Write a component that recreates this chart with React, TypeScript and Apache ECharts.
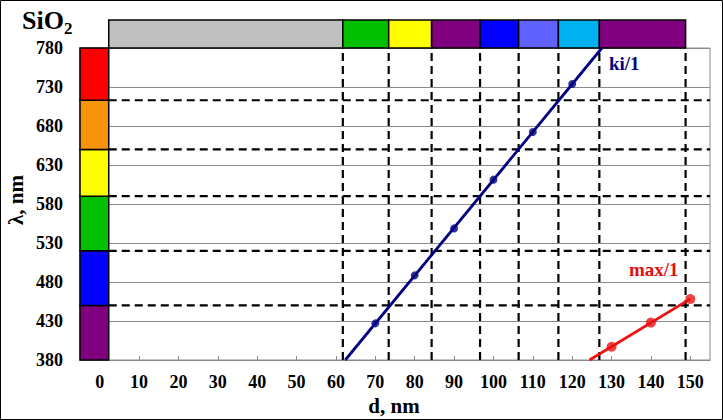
import React, { useEffect, useRef } from "react";
import * as echarts from "echarts";

// ---- data ----
const xTicks = [0, 10, 20, 30, 40, 50, 60, 70, 80, 90, 100, 110, 120, 130, 140, 150];
const yTicks = [380, 430, 480, 530, 580, 630, 680, 730, 780];
const kiD = [70, 80, 90, 100, 110, 120];
const kiLambda = [427, 488.5, 548.7, 611.2, 672.3, 733.8];
const maxD = [130, 140, 150];
const maxLambda = [397, 428, 458.2];
// wavelength colour bands (bottom -> top)
const lambdaBounds = [380, 450, 520, 590, 650, 713, 780];
const lambdaColors = ["#800080", "#0000FF", "#00C000", "#FFFF00", "#F7930B", "#FF0000"];
// thickness colour bands (left -> right)
const dBounds = [2.3, 61.75, 73.4, 84.3, 96.6, 106.4, 116.5, 126.9, 148.8];
const dColors = ["#C0C0C0", "#00C000", "#FFFF00", "#800080", "#0000FF", "#6161FF", "#00B0F0", "#800080"];

const X_MIN = -5;
const X_MAX = 155;
const Y_MIN = yTicks[0];
const Y_MAX = yTicks[yTicks.length - 1];

function fit(xs: number[], ys: number[]) {
  const n = xs.length;
  const mx = xs.reduce((a, b) => a + b, 0) / n;
  const my = ys.reduce((a, b) => a + b, 0) / n;
  let sxy = 0;
  let sxx = 0;
  for (let i = 0; i < n; i++) {
    sxy += (xs[i] - mx) * (ys[i] - my);
    sxx += (xs[i] - mx) * (xs[i] - mx);
  }
  const m = sxy / sxx;
  return { m, b: my - m * mx };
}

const FAMILY = "Liberation Serif";

export default function App() {
  const ref = useRef<HTMLDivElement>(null);
  useEffect(() => {
    document.body.style.margin = "0";
    const chart = echarts.init(ref.current!, null, { renderer: "svg" });

    const kf = fit(kiD, kiLambda);
    const kiLine = [
      [(Y_MIN - kf.b) / kf.m, Y_MIN],
      [(Y_MAX - kf.b) / kf.m, Y_MAX],
    ];
    const mf = fit(maxD, maxLambda);
    const lastD = maxD[maxD.length - 1];
    const maxLine = [
      [(Y_MIN - mf.b) / mf.m, Y_MIN],
      [lastD, mf.m * lastD + mf.b],
    ];

    const dashStyle = { stroke: "#000", lineWidth: 2.2, lineDash: [8, 5] };
    const txt = (size: number) => ({ fontFamily: FAMILY, fontWeight: "bold", fontSize: size });

    chart.setOption({
      animation: false,
      grid: {
        left: 80,
        right: 13,
        top: 48,
        bottom: 60,
        show: true,
        borderColor: "#8a8a8a",
        borderWidth: 1,
        backgroundColor: "transparent",
      },
      xAxis: {
        type: "value",
        min: X_MIN,
        max: X_MAX,
        axisLine: { show: true, lineStyle: { color: "#8a8a8a", width: 1 } },
        axisTick: { show: true, inside: true, length: 4, customValues: xTicks, lineStyle: { color: "#8a8a8a" } },
        axisLabel: {
          customValues: xTicks,
          margin: 13,
          fontFamily: FAMILY,
          fontWeight: "bold",
          fontSize: 18,
          color: "#000",
        },
        splitLine: { show: false },
      },
      yAxis: {
        type: "value",
        min: Y_MIN,
        max: Y_MAX,
        interval: 50,
        axisLine: { show: false },
        axisTick: { show: false },
        axisLabel: {
          margin: 17,
          fontFamily: FAMILY,
          fontWeight: "bold",
          fontSize: 18,
          color: "#000",
        },
        splitLine: { show: true, lineStyle: { color: "#8a8a8a", width: 1 } },
      },
      series: [
        {
          type: "custom",
          name: "vdash",
          clip: false,
          z: 2,
          encode: { x: 0, y: 1 },
          data: dBounds.slice(1).map((d) => [d, Y_MIN]),
          renderItem: (params: any, api: any) => {
            const p0 = api.coord([api.value(0), Y_MIN]);
            const p1 = api.coord([api.value(0), Y_MAX]);
            return {
              type: "line",
              shape: { x1: p0[0], y1: p0[1], x2: p1[0], y2: p1[1] },
              style: dashStyle,
            };
          },
        },
        {
          type: "custom",
          name: "hdash",
          clip: false,
          z: 2,
          encode: { x: 0, y: 1 },
          data: lambdaBounds.slice(1, -1).map((l) => [dBounds[0], l]),
          renderItem: (params: any, api: any) => {
            const p0 = api.coord([api.value(0), api.value(1)]);
            const p1 = api.coord([X_MAX, api.value(1)]);
            return {
              type: "line",
              shape: { x1: p0[0], y1: p0[1], x2: p1[0], y2: p1[1] },
              style: dashStyle,
            };
          },
        },
        {
          type: "custom",
          name: "lambdaBar",
          clip: false,
          z: 3,
          encode: { x: [0, 1], y: [2, 3] },
          data: lambdaColors.map((c, i) => [X_MIN, dBounds[0], lambdaBounds[i], lambdaBounds[i + 1]]),
          renderItem: (params: any, api: any) => {
            const p0 = api.coord([api.value(0), api.value(3)]);
            const p1 = api.coord([api.value(1), api.value(2)]);
            return {
              type: "rect",
              shape: { x: p0[0], y: p0[1], width: p1[0] - p0[0], height: p1[1] - p0[1] },
              style: { fill: lambdaColors[params.dataIndex], stroke: "#000", lineWidth: 1.5 },
            };
          },
        },
        {
          type: "custom",
          name: "dBar",
          clip: false,
          z: 3,
          encode: { x: [0, 1], y: 2 },
          data: dColors.map((c, i) => [dBounds[i], dBounds[i + 1], Y_MAX]),
          renderItem: (params: any, api: any) => {
            const p0 = api.coord([api.value(0), Y_MAX]);
            const p1 = api.coord([api.value(1), Y_MAX]);
            return {
              type: "rect",
              shape: { x: p0[0], y: p0[1] - 28, width: p1[0] - p0[0], height: 28 },
              style: { fill: dColors[params.dataIndex], stroke: "#000", lineWidth: 1.5 },
            };
          },
        },
        {
          type: "line",
          name: "ki trend",
          data: kiLine,
          showSymbol: false,
          z: 5,
          lineStyle: { color: "#000080", width: 2.8 },
          itemStyle: { color: "#000080" },
        },
        {
          type: "scatter",
          name: "ki/1",
          data: kiD.map((d, i) => [d, kiLambda[i]]),
          symbolSize: 8,
          z: 6,
          itemStyle: { color: "#000080" },
        },
        {
          type: "line",
          name: "max trend",
          data: maxLine,
          showSymbol: false,
          z: 5,
          lineStyle: { color: "#EE1111", width: 2.8 },
          itemStyle: { color: "#EE1111" },
        },
        {
          type: "scatter",
          name: "max/1",
          data: maxD.map((d, i) => [d, maxLambda[i]]),
          symbolSize: 10,
          z: 6,
          itemStyle: { color: "#EE1111" },
        },
      ],
      graphic: [
        {
          type: "rect",
          shape: { x: 0.5, y: 0.5, width: 722, height: 419 },
          style: { fill: "none", stroke: "#000", lineWidth: 1 },
          silent: true,
        },
        {
          type: "text",
          x: 22,
          y: 20,
          style: { text: "SiO", ...txt(26), fill: "#000", align: "left", verticalAlign: "middle" },
        },
        {
          type: "text",
          x: 64,
          y: 28,
          style: { text: "2", ...txt(17), fill: "#000", align: "left", verticalAlign: "middle" },
        },
        {
          type: "text",
          x: 16,
          y: 200,
          rotation: Math.PI / 2,
          style: { text: "λ, nm", ...txt(21), fill: "#000", align: "center", verticalAlign: "middle" },
        },
        {
          type: "text",
          x: 394,
          y: 406,
          style: { text: "d, nm", ...txt(21), fill: "#000", align: "center", verticalAlign: "middle" },
        },
        {
          type: "text",
          x: 609,
          y: 63,
          style: { text: "ki/1", ...txt(19), fill: "#000080", align: "left", verticalAlign: "middle" },
        },
        {
          type: "text",
          x: 629,
          y: 269,
          style: { text: "max/1", ...txt(19), fill: "#E01010", align: "left", verticalAlign: "middle" },
        },
      ],
    });
    return () => chart.dispose();
  }, []);
  return (
    <div
      ref={ref}
      style={{ position: "fixed", left: 0, top: 0, width: 723, height: 420, background: "#fff" }}
    />
  );
}
